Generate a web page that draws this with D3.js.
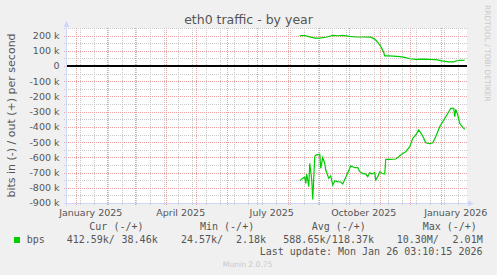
<!DOCTYPE html>
<html><head><meta charset="utf-8">
<script src="https://cdn.jsdelivr.net/npm/d3@7"></script>
<style>body{margin:0;background:#f0f0f0;overflow:hidden}</style>
</head><body><script>
// ---- data (bits per second) ----
const outDates = ["2025-08-13","2025-08-18","2025-08-23","2025-08-28","2025-09-02","2025-09-08","2025-09-15","2025-09-20","2025-09-25","2025-10-02","2025-10-08","2025-10-15","2025-10-23","2025-10-27","2025-10-30","2025-11-02","2025-11-05","2025-11-06","2025-11-11","2025-11-21","2025-11-26","2025-12-01","2025-12-07","2025-12-14","2025-12-21","2025-12-29","2026-01-02","2026-01-09","2026-01-14","2026-01-17","2026-01-20","2026-01-25"];
const outValues = [200,200,192,184,184,189,202,199,202,195,191,191,190,177,155,129,89,67,67,62,57,48,44,46,44,41,34,28,28,35,37,38].map(v => v * 1000);
const inDates = ["2025-08-13","2025-08-16","2025-08-18","2025-08-19","2025-08-20","2025-08-22","2025-08-23","2025-08-25","2025-08-26","2025-08-28","2025-08-29","2025-09-02","2025-09-03","2025-09-05","2025-09-07","2025-09-08","2025-09-11","2025-09-13","2025-09-15","2025-09-17","2025-09-20","2025-09-23","2025-09-25","2025-09-28","2025-10-02","2025-10-03","2025-10-07","2025-10-10","2025-10-12","2025-10-15","2025-10-18","2025-10-20","2025-10-22","2025-10-24","2025-10-27","2025-10-28","2025-10-30","2025-11-01","2025-11-03","2025-11-06","2025-11-07","2025-11-11","2025-11-17","2025-11-20","2025-11-24","2025-11-27","2025-12-01","2025-12-04","2025-12-07","2025-12-10","2025-12-14","2025-12-17","2025-12-21","2025-12-24","2025-12-27","2025-12-31","2026-01-03","2026-01-06","2026-01-09","2026-01-11","2026-01-14","2026-01-15","2026-01-16","2026-01-18","2026-01-20","2026-01-23","2026-01-25"];
const inValues = [-753,-738,-731,-771,-710,-793,-640,-749,-876,-596,-585,-580,-672,-602,-640,-683,-738,-722,-782,-755,-760,-762,-775,-731,-672,-655,-668,-668,-694,-705,-710,-727,-700,-710,-700,-749,-727,-694,-705,-710,-613,-613,-611,-596,-574,-563,-530,-475,-453,-420,-460,-504,-510,-504,-464,-398,-366,-333,-300,-278,-278,-333,-285,-322,-377,-403,-416].map(v => v * 1000);

const yTicks = [200,100,0,-100,-200,-300,-400,-500,-600,-700,-800,-900].map(v => v * 1000);
const yTickLabels = ["200 k","100 k","0","-100 k","-200 k","-300 k","-400 k","-500 k","-600 k","-700 k","-800 k","-900 k"];
const xLabelDates = ["2025-01-01","2025-04-01","2025-07-01","2025-10-01","2026-01-01"];
const xLabels = ["January 2025","April 2025","July 2025","October 2025","January 2026"];

const legendHeaders = ["Cur (-/+)","Min (-/+)","Avg (-/+)","Max (-/+)"];
const legendIn = ["412.59k/","24.57k/","588.65k/","10.30M/"];
const legendOut = ["38.46k","2.18k","118.37k","2.01M"];

// ---- layout ----
const W = 497, H = 275;
const L = 67, R = 467, T = 28, B = 203;
const parse = d3.utcParse("%Y-%m-%d");
const x = d3.scaleUtc()
  .domain([new Date(Date.UTC(2024,11,22,18)), new Date(Date.UTC(2026,0,26,18))])
  .range([L - 0.5, R - 0.5]);
const y = d3.scaleLinear().domain([-900000, 250000]).range([B, T]);

const svg = d3.select("body").append("svg").attr("width", W).attr("height", H)
  .style("display","block").style("font-family","'DejaVu Sans', sans-serif");
svg.append("rect").attr("width", W).attr("height", H).attr("fill", "#f0f0f0");
svg.append("rect").attr("x", L).attr("y", T).attr("width", R - L).attr("height", B - T).attr("fill", "#ffffff");

const grid = svg.append("g").attr("shape-rendering","crispEdges");
// minor horizontal grid every 50k
d3.range(-900000, 250001, 50000).forEach(v => {
  grid.append("line").attr("x1", L - 3).attr("x2", R).attr("y1", Math.round(y(v)) + 0.5).attr("y2", Math.round(y(v)) + 0.5)
    .attr("stroke", "#c8c8c8").attr("stroke-dasharray","1,1");
});
// minor vertical grid every 14 days
const minorStart = parse("2025-01-05");
for (let i = -1; i < 30; i++) {
  const d = d3.utcDay.offset(minorStart, i * 14);
  const px = x(d);
  if (px < L || px > R) continue;
  grid.append("line").attr("x1", Math.round(px) + 0.5).attr("x2", Math.round(px) + 0.5).attr("y1", T).attr("y2", B + 3)
    .attr("stroke", "#c8c8c8").attr("stroke-dasharray","1,1");
}
// major horizontal
yTicks.forEach(v => {
  grid.append("line").attr("x1", L - 3).attr("x2", R).attr("y1", Math.round(y(v)) + 0.5).attr("y2", Math.round(y(v)) + 0.5)
    .attr("stroke", "#eca0a0").attr("stroke-dasharray","1,1");
});
// major vertical at month starts
d3.utcMonth.range(x.domain()[0], x.domain()[1]).forEach(d => {
  const px = x(d);
  if (px < L) return;
  grid.append("line").attr("x1", Math.round(px) + 0.5).attr("x2", Math.round(px) + 0.5).attr("y1", T).attr("y2", B + 3)
    .attr("stroke", "#eca0a0").attr("stroke-dasharray","1,1");
});

// axes
const axisCol = "#cfd6f8";
svg.append("line").attr("x1", L - 0.5).attr("x2", L - 0.5).attr("y1", T - 3).attr("y2", B + 3).attr("stroke", axisCol);
svg.append("line").attr("x1", L - 3).attr("x2", R + 2).attr("y1", B + 0.5).attr("y2", B + 0.5).attr("stroke", axisCol);
svg.append("path").attr("d", `M${L-3.5},${T-1} L${L+2.5},${T-1} L${L-0.5},${T-7} Z`).attr("fill", axisCol);
svg.append("path").attr("d", `M${R+1},${B-2.5} L${R+1},${B+3.5} L${R+7},${B+0.5} Z`).attr("fill", axisCol);

// zero line
svg.append("line").attr("x1", L).attr("x2", R).attr("y1", y(0)).attr("y2", y(0))
  .attr("stroke", "#000").attr("stroke-width", 2);

// data lines
const line = d3.line().x(d => x(d[0])).y(d => y(d[1]));
svg.append("path").datum(outDates.map((d,i) => [parse(d), outValues[i]]))
  .attr("d", line).attr("fill","none").attr("stroke","#00cc00").attr("stroke-width",1.2);
svg.append("path").datum(inDates.map((d,i) => [parse(d), inValues[i]]))
  .attr("d", line).attr("fill","none").attr("stroke","#00cc00").attr("stroke-width",1.2);

// y tick labels
const textCol = "#555555";
yTicks.forEach((v,i) => {
  svg.append("text").attr("x", 59.5).attr("y", y(v) + 3.4).attr("text-anchor","end")
    .attr("font-size", 9.5).attr("fill", textCol).text(yTickLabels[i]);
});
// x labels (centered half a month after month start)
xLabelDates.forEach((d,i) => {
  const px = x(d3.utcDay.offset(parse(d), 15));
  svg.append("text").attr("x", px).attr("y", 216).attr("text-anchor","middle")
    .attr("font-size", 9.5).attr("fill", textCol).text(xLabels[i]);
});

// title
svg.append("text").attr("x", 248.5).attr("y", 24).attr("text-anchor","middle")
  .attr("font-size", 12.5).attr("fill", textCol).text("eth0 traffic - by year");
// y label
svg.append("text").attr("transform", `translate(14.5,${(T+B)/2}) rotate(-90)`).attr("text-anchor","middle")
  .attr("font-size", 11).attr("fill", textCol).text("bits in (-) / out (+) per second");
// watermark
svg.append("text").attr("transform", "translate(485,5) rotate(90)").attr("text-anchor","start")
  .attr("font-size", 7.5).attr("fill", "#c8c8c8").text("RRDTOOL / TOBI OETIKER");

// legend
const mono = "'DejaVu Sans Mono', monospace";
const lg = svg.append("g").attr("font-family", mono).attr("font-size", 10).attr("fill", textCol).attr("xml:space","preserve");
const headX = [89.3, 200, 311.7, 422.7];
legendHeaders.forEach((t,i) => lg.append("text").attr("x", headX[i]).attr("y", 230).text(t));
svg.append("rect").attr("x", 14).attr("y", 237).attr("width", 6).attr("height", 6).attr("fill", "#00cc00");
lg.append("text").attr("x", 26.7).attr("y", 243).text("bps");
const inX = [66.7, 181, 283.3, 396.7];
const outEndX = [157.7, 266, 374, 482.7];
legendIn.forEach((t,i) => lg.append("text").attr("x", inX[i]).attr("y", 243).text(t));
legendOut.forEach((t,i) => lg.append("text").attr("x", outEndX[i]).attr("y", 243).attr("text-anchor","end").text(t));
lg.append("text").attr("x", 482.5).attr("y", 255).attr("text-anchor","end").text("Last update: Mon Jan 26 03:10:15 2026");
svg.append("text").attr("x", 247.7).attr("y", 266.5).attr("text-anchor","middle")
  .attr("font-size", 7.6).attr("fill", "#c8c8c8").text("Munin 2.0.75");
</script></body></html>
